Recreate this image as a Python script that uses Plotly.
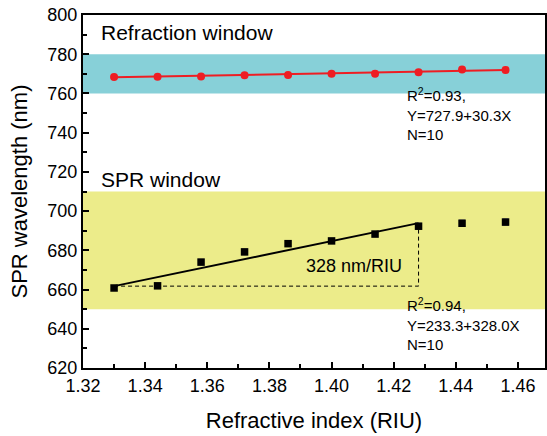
import plotly.graph_objects as go

# Refractive index of the test solutions (RIU)
ri = [1.330, 1.344, 1.358, 1.372, 1.386, 1.400, 1.414, 1.428, 1.442, 1.456]

# Refraction-window peak wavelength (nm) and its error
refr_nm = [768.4, 768.5, 768.7, 769.3, 769.4, 770.0, 770.1, 770.8, 772.2, 772.0]
refr_err = [1.3, 1.2, 1.2, 1.2, 1.3, 1.3, 1.4, 1.4, 1.5, 1.5]

# SPR-window peak wavelength (nm) and its error
spr_nm = [660.8, 661.9, 674.0, 679.2, 683.4, 684.8, 688.3, 692.3, 693.8, 694.4]
spr_err = [1.2, 1.3, 1.4, 1.4, 1.3, 1.2, 1.3, 1.5, 1.6, 1.6]

# Linear fits
refr_fit = (727.9, 30.3)     # intercept, slope
spr_slope = 328.0            # nm/RIU
spr_offset = 225.5           # fitted line offset over the linear range
spr_fit_n = 8                # points in the linear range

# Shaded wavelength windows (nm)
refr_band = (760, 780)
spr_band = (650, 710)

FONT = "Liberation Sans, Arial, sans-serif"
RED = "#ee1d23"

fig = go.Figure()

# window bands
fig.add_shape(type="rect", xref="paper", x0=0, x1=1, yref="y",
              y0=refr_band[0], y1=refr_band[1], fillcolor="#87d0d8",
              line_width=0, layer="below")
fig.add_shape(type="rect", xref="paper", x0=0, x1=1, yref="y",
              y0=spr_band[0], y1=spr_band[1], fillcolor="#ecec8a",
              line_width=0, layer="below")

# refraction window fit and data
x_r = [ri[0], ri[-1]]
fig.add_trace(go.Scatter(x=x_r, y=[refr_fit[0] + refr_fit[1] * v for v in x_r],
                         mode="lines", line=dict(color=RED, width=2),
                         hoverinfo="skip", showlegend=False))
fig.add_trace(go.Scatter(x=ri, y=refr_nm, mode="markers",
                         marker=dict(symbol="circle", size=8, color=RED),
                         error_y=dict(type="data", array=refr_err,
                                      color="#f08a8a", thickness=1.2, width=3),
                         showlegend=False))

# SPR window fit (linear range) and data
x_s = [ri[0], ri[spr_fit_n - 1]]
y_s = [spr_offset + spr_slope * v for v in x_s]
fig.add_trace(go.Scatter(x=x_s, y=y_s, mode="lines",
                         line=dict(color="black", width=2),
                         hoverinfo="skip", showlegend=False))
fig.add_trace(go.Scatter(x=[x_s[0], x_s[1], x_s[1]], y=[y_s[0], y_s[0], y_s[1]],
                         mode="lines", line=dict(color="black", width=1, dash="4px,3px"),
                         hoverinfo="skip", showlegend=False))
fig.add_trace(go.Scatter(x=ri, y=spr_nm, mode="markers",
                         marker=dict(symbol="square", size=7.5, color="black"),
                         error_y=dict(type="data", array=spr_err,
                                      color="#888888", thickness=1.2, width=3),
                         showlegend=False))

ann = dict(xref="x", yref="y", showarrow=False, xanchor="left",
           font=dict(family=FONT, size=21, color="black"))
fig.add_annotation(x=1.3253, y=791, text="Refraction window", **ann)
fig.add_annotation(x=1.3253, y=716, text="SPR window", **ann)
fig.add_annotation(x=1.3912, y=672, text="328 nm/RIU",
                   **{**ann, "font": dict(family=FONT, size=18, color="black")})

small = dict(xref="x", yref="y", showarrow=False, xanchor="left", yanchor="top",
             align="left", font=dict(family=FONT, size=15, color="black"))
fig.add_annotation(x=1.4235, y=765.5,
                   text=f"R<sup>2</sup>=0.93,<br>Y={refr_fit[0]}+{refr_fit[1]}X<br>N={len(ri)}",
                   **small)
fig.add_annotation(x=1.4235, y=658,
                   text=f"R<sup>2</sup>=0.94,<br>Y=233.3+{spr_slope}X<br>N={len(ri)}",
                   **small)

axis_common = dict(showline=True, linecolor="black", linewidth=2, mirror=True,
                   ticks="inside", ticklen=6, tickwidth=1.5, tickcolor="black",
                   showgrid=False, zeroline=False,
                   tickfont=dict(family=FONT, size=18, color="black"))

fig.update_xaxes(range=[1.32, 1.4687], tickvals=[1.32, 1.34, 1.36, 1.38, 1.40, 1.42, 1.44, 1.46],
                 tickformat=".2f",
                 minor=dict(ticks="inside", ticklen=4, tickwidth=1.5, tickcolor="black",
                            dtick=0.01, tick0=1.31),
                 title=dict(text="Refractive index (RIU)", standoff=18,
                            font=dict(family=FONT, size=22, color="black")),
                 **axis_common)
fig.update_yaxes(range=[620, 800], dtick=20,
                 minor=dict(ticks="inside", ticklen=4, tickwidth=1.5, tickcolor="black",
                            dtick=10),
                 title=dict(text="SPR wavelength (nm)", standoff=14,
                            font=dict(family=FONT, size=22, color="black")),
                 **axis_common)

fig.update_layout(width=547, height=436, margin=dict(l=83, r=0, t=15, b=68),
                  plot_bgcolor="white", paper_bgcolor="white",
                  font=dict(family=FONT))

fig.write_html("out.html")
